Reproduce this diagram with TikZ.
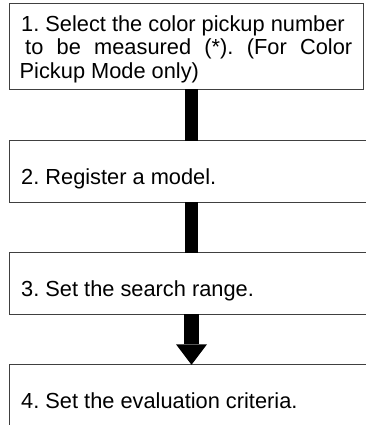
\documentclass[tikz,border=0pt]{standalone}
\usepackage{fontspec}
\setmainfont{Liberation Sans}
\usetikzlibrary{calc}
\frenchspacing
\tikzset{
  frame/.style={draw=none, rectangle, inner sep=0pt},
  edge/.style={draw=black!75, line width=1.1pt},
  lbl/.style={inner sep=0pt, anchor=base west, font=\fontsize{21.8}{23}\selectfont},
  bar/.style={line width=13.5pt, black},
}
\begin{document}
\begin{tikzpicture}[x=1pt,y=1pt]
\useasboundingbox (0,0) rectangle (366,-425);
% frames
\node[frame, minimum width=353pt, minimum height=85pt] (b1) at (186.5,-46.5) {};
\node[frame, minimum width=360pt, minimum height=61pt] (b2) at (190,-171.5) {};
\node[frame, minimum width=360pt, minimum height=61pt] (b3) at (190,-283.5) {};
\node[frame, minimum width=360pt, minimum height=75pt] (b4) at (190,-402.5) {};
\draw[edge] (b1.north west) rectangle (b1.south east);
\draw[edge] (b2.north east) -- (b2.north west) -- (b2.south west) -- (b2.south east);
\draw[edge] (b3.north east) -- (b3.north west) -- (b3.south west) -- (b3.south east);
\draw[edge] (b4.north east) -- (b4.north west) -- (b4.south west);
% texts
\node[lbl] (t1a) at (21,-31.5) {1. Select the color pickup number};
\node[lbl] (t1b) at (25,-55) {\frenchspacing\makebox[327pt][s]{to be measured (*). (For Color}};
\node[lbl] (t1c) at (19.5,-78.5) {Pickup Mode only)};
\node[lbl] (t2) at (21,-184) {2. Register a model.};
\node[lbl] (t3) at (21,-296) {3. Set the search range.};
\node[lbl] (t4) at (21,-408) {4. Set the evaluation criteria.};
% connectors
\coordinate (cx) at (191.5,0);
\draw[bar] (cx |- b1.south) -- (cx |- b2.north);
\draw[bar] (cx |- b2.south) -- (cx |- b3.north);
\coordinate (a3s) at (cx |- b3.south);
\coordinate (a3e) at (cx |- b4.north);
\draw[line width=14.5pt, black] (a3s) -- ($(a3e)+(0,20.5)$);
\fill[black] ($(a3e)+(-15.5,20.5)$) -- ($(a3e)+(15.5,20.5)$) -- (a3e) -- cycle;
\end{tikzpicture}
\end{document}
